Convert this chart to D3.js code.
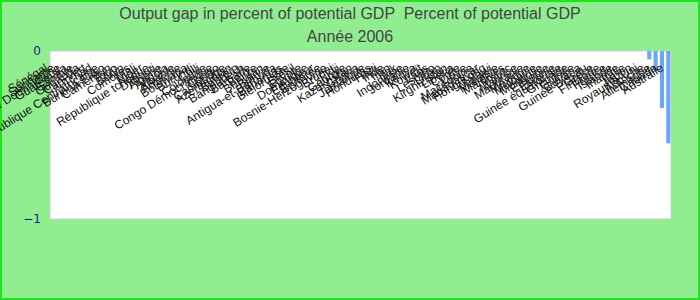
<!DOCTYPE html>
<html>
<head>
<meta charset="utf-8">
<script src="https://cdn.jsdelivr.net/npm/d3@7"></script>
<style>
  body { margin: 0; }
  #canvas { width: 700px; height: 300px; }
</style>
</head>
<body>
<div id="canvas"></div>
<script>
const titleLines = ['Output gap in percent of potential GDP  Percent of potential GDP', 'Année 2006']

const countries = [
  'Sénégal', 'Suriname', 'République Dominicaine', 'Guatemala', 'Gambie', 'Ouganda', 'Cap-Vert', 'Tchad',
  'République Centrafricaine', 'Burkina Faso', 'Cameroun', 'Togo', 'Bénin', 'Comores', 'Mali', 'Niger',
  'République tchèque', 'Djibouti', 'Algérie', 'Angola', 'Albanie', 'Arménie', 'Botswana', 'Burundi',
  'Chili', 'Colombie', 'Congo Démocratique', 'Congo', 'Cambodge', 'Azerbaïdjan', 'Bahreïn', 'Bangladesh',
  'Barbade', 'Belize', 'Bhoutan', 'Bolivie', 'Antigua-et-Barbuda', 'Bahamas', 'Biélorussie', 'Brésil',
  'Égypte', 'Dominique', 'Équateur', 'Érythrée', 'Bosnie-Herzégovine', 'Brunei', 'Fidji', 'Géorgie',
  'Kazakhstan', 'Ghana', 'Jamaïque', 'Honduras', 'Haïti', 'Inde', 'Iran', 'Irak',
  'Indonésie', 'Jordanie', 'Kenya', 'Koweït', 'Laos', 'Lesotho', 'Liban', 'Kirghizistan',
  'Libéria', 'Corée', 'Libye', 'Macédoine', 'Madagascar', 'Hong Kong', 'Malawi', 'Malaisie',
  'Maldives', 'Maroc', 'Maurice', 'Mauritanie', 'Mexique', 'Moldavie', 'Mongolie', 'Éthiopie',
  'Estonie', 'Guinée équatoriale', 'Grenade', 'Guinée', 'Guyana', 'Guinée-Bissau', 'Grèce', 'Finlande',
  'France', 'Islande', 'Irlande', 'Italie', 'Japon', 'Royaume-Uni', 'Autriche', 'Allemagne',
  'Canada', 'Australie'
]

// only the last four countries have a value for 2006
const gapValues = countries.map(() => null)
const knownGaps = [-0.05, -0.11, -0.34, -0.55]
knownGaps.forEach((v, i) => { gapValues[countries.length - knownGaps.length + i] = v })

const yTicks = [0, -1]

const width = 700, height = 300
const plot = {left: 50, right: 671, top: 51, bottom: 219}

const svg = d3.select('#canvas')
  .append('svg')
  .attr('width', width)
  .attr('height', height)
  .style('font-family', 'Arial, "Liberation Sans", sans-serif')

svg.append('rect')
  .attr('x', 1).attr('y', 1)
  .attr('width', width - 2).attr('height', height - 2)
  .attr('fill', '#90ee90')
  .attr('stroke', '#1ee61e')
  .attr('stroke-width', 2)

svg.selectAll('.title')
  .data(titleLines)
  .enter()
  .append('text')
  .attr('x', width / 2)
  .attr('y', (d, i) => 19 + i * 23)
  .attr('text-anchor', 'middle')
  .attr('font-size', '16px')
  .attr('fill', '#444')
  .style('white-space', 'pre')
  .text(d => d)

svg.append('rect')
  .attr('x', plot.left).attr('y', plot.top)
  .attr('width', plot.right - plot.left).attr('height', plot.bottom - plot.top)
  .attr('fill', '#fff')
  .attr('stroke', '#ccc')

const x = d3.scaleBand()
  .domain(countries)
  .range([plot.left, plot.right])
  .paddingInner(0.35)
  .paddingOuter(0.1)

const y = d3.scaleLinear()
  .domain([-1, 0])
  .range([plot.bottom, plot.top])

const yAxis = svg.append('g')
  .attr('transform', `translate(${plot.left - 6},0)`)
  .call(d3.axisLeft(y).tickValues(yTicks).tickSize(0).tickFormat(d3.format('d')))
yAxis.select('.domain').remove()
yAxis.selectAll('text')
  .attr('font-size', '12px')
  .attr('font-family', 'DejaVu Sans, sans-serif')
  .attr('fill', '#1a1a8c')

svg.selectAll('.bar')
  .data(countries.map((c, i) => ({c, v: gapValues[i]})).filter(d => d.v !== null))
  .enter()
  .append('rect')
  .attr('x', d => x(d.c))
  .attr('y', y(0))
  .attr('width', x.bandwidth())
  .attr('height', d => y(d.v) - y(0))
  .attr('fill', '#66aaf5')

svg.selectAll('.label')
  .data(countries)
  .enter()
  .append('text')
  .attr('transform', d => `translate(${x(d) + x.bandwidth() / 2 - 4},${plot.top + 19}) rotate(-32)`)
  .attr('text-anchor', 'end')
  .attr('font-size', '12px')
  .attr('fill', '#111')
  .text(d => d)
</script>
</body>
</html>
